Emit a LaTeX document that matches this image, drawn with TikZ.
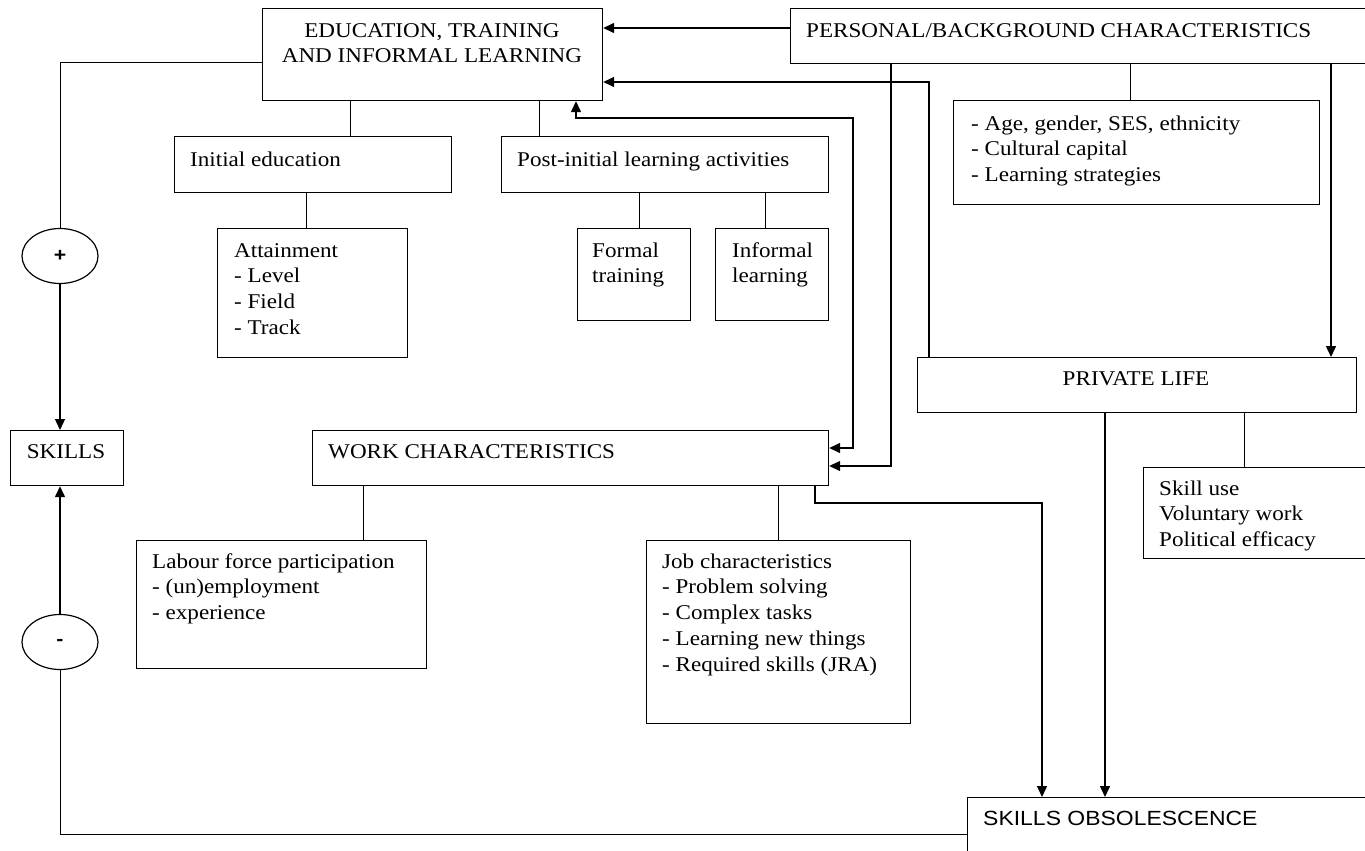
\documentclass[tikz,border=0pt]{standalone}
\usepackage{fontspec}
\setmainfont{Liberation Serif}[FakeStretch=1.1]
\newfontfamily\sansf{Liberation Sans}[FakeStretch=1.12]
\usetikzlibrary{arrows.meta,shapes.geometric}
\newcommand\tstrut{\rule{0pt}{15pt}}
\begin{document}
\begin{tikzpicture}[x=1pt,y=-1pt,
  box/.style={draw,line width=1.2pt,inner sep=0pt,rectangle,anchor=north west},
  txt/.style={anchor=north west,inner sep=0pt,align=left,font=\fontsize{21}{25.7}\selectfont},
  ctxt/.style={anchor=north,inner sep=0pt,align=center,font=\fontsize{21}{25.7}\selectfont},
  sign/.style={draw,line width=1.2pt,ellipse,minimum width=76pt,minimum height=55pt,inner sep=0pt,font=\sansf\bfseries\fontsize{19}{20}\selectfont},
  con/.style={line width=1pt},
  arr/.style={line width=1.4pt,-{Triangle[length=11pt,width=10pt]}},
  barr/.style={line width=1.4pt,{Triangle[length=11pt,width=10pt]}-{Triangle[length=11pt,width=10pt]}}
]
\useasboundingbox (0,0) rectangle (1365,851);
\clip (0,0) rectangle (1365,851);
\fill[white] (0,0) rectangle (1365,851);

% boxes
\node[box,minimum width=340pt,minimum height=92pt] (edu) at (262,8) {};
\node[box,minimum width=590pt,minimum height=55pt] (pers) at (790,8) {};
\node[box,minimum width=366pt,minimum height=104pt] (age) at (953,100) {};
\node[box,minimum width=277pt,minimum height=56pt] (init) at (174,136) {};
\node[box,minimum width=327pt,minimum height=56pt] (post) at (501,136) {};
\node[box,minimum width=190pt,minimum height=129pt] (attain) at (217,228) {};
\node[box,minimum width=113pt,minimum height=92pt] (formal) at (577,228) {};
\node[box,minimum width=113pt,minimum height=92pt] (informal) at (715,228) {};
\node[box,minimum width=439pt,minimum height=55pt] (private) at (917,357) {};
\node[box,minimum width=113pt,minimum height=55pt] (skills) at (10,430) {};
\node[box,minimum width=516pt,minimum height=55pt] (work) at (312,430) {};
\node[box,minimum width=237pt,minimum height=91pt] (skilluse) at (1143,467) {};
\node[box,minimum width=290pt,minimum height=128pt] (labour) at (136,540) {};
\node[box,minimum width=264pt,minimum height=183pt] (job) at (646,540) {};
\node[box,minimum width=413pt,minimum height=73pt] (obs) at (967,797) {};
\node[sign] (plus) at (60,256) {+};
\node[sign] (minus) at (60,642) {-};

% texts
\node[ctxt] (edu-t) at (432,22) {\tstrut EDUCATION, TRAINING\\AND INFORMAL LEARNING};
\node[txt] (pers-t) at (806,22) {\tstrut PERSONAL/BACKGROUND CHARACTERISTICS};
\node[txt] (age-t) at (971,115) {\tstrut - Age, gender, SES, ethnicity\\- Cultural capital\\- Learning strategies};
\node[txt] (init-t) at (190,151) {\tstrut Initial education};
\node[txt] (post-t) at (517,151) {\tstrut Post-initial learning activities};
\node[txt] (attain-t) at (234,242) {\tstrut Attainment\\- Level\\- Field\\- Track};
\node[txt] (formal-t) at (592,242) {\tstrut Formal\\training};
\node[txt] (informal-t) at (732,242) {\tstrut Informal\\learning};
\node[ctxt] (private-t) at (1136,370) {\tstrut PRIVATE LIFE};
\node[ctxt] (skills-t) at (66,443) {\tstrut SKILLS};
\node[txt] (work-t) at (328,443) {\tstrut WORK CHARACTERISTICS};
\node[txt] (skilluse-t) at (1159,480) {\tstrut Skill use\\Voluntary work\\Political efficacy};
\node[txt] (labour-t) at (152,553) {\tstrut Labour force participation\\- (un)employment\\- experience};
\node[txt] (job-t) at (662,553) {\tstrut Job characteristics\\- Problem solving\\- Complex tasks\\- Learning new things\\- Required skills (JRA)};
\node[anchor=base west,inner sep=0pt,font=\sansf\fontsize{20.5}{22}\selectfont] (obs-t) at (983,825) {SKILLS OBSOLESCENCE};

% plain connectors
\draw[con] (350,0 |- edu.south) -- (350,0 |- init.north);
\draw[con] (539,0 |- edu.south) -- (539,0 |- post.north);
\draw[con] (306,0 |- init.south) -- (306,0 |- attain.north);
\draw[con] (639,0 |- post.south) -- (639,0 |- formal.north);
\draw[con] (765,0 |- post.south) -- (765,0 |- informal.north);
\draw[con] (1130,0 |- pers.south) -- (1130,0 |- age.north);
\draw[con] (1244,0 |- private.south) -- (1244,0 |- skilluse.north);
\draw[con] (363,0 |- work.south) -- (363,0 |- labour.north);
\draw[con] (778,0 |- work.south) -- (778,0 |- job.north);
\draw[con] (edu.west |- 0,63) -| (plus.north);
\draw[con] (minus.south) |- (obs.west);

% arrows
\draw[arr] (plus.south) -- (plus.south |- skills.north);
\draw[arr] (minus.north) -- (minus.north |- skills.south);
\draw[arr] (pers.west |- 0,28) -- (edu.east |- 0,28);
\draw[arr] (929,0 |- private.north) |- (edu.east |- 0,82);
\draw[barr] (576,0 |- edu.south) |- (853,118) |- (work.east |- 0,448);
\draw[arr] (891,0 |- pers.south) |- (work.east |- 0,466);
\draw[arr] (1331,0 |- pers.south) -- (1331,0 |- private.north);
\draw[arr] (1105,0 |- private.south) -- (1105,0 |- obs.north);
\draw[arr] (815,0 |- work.south) |- (1042,503) -- (1042,0 |- obs.north);
\end{tikzpicture}
\end{document}
